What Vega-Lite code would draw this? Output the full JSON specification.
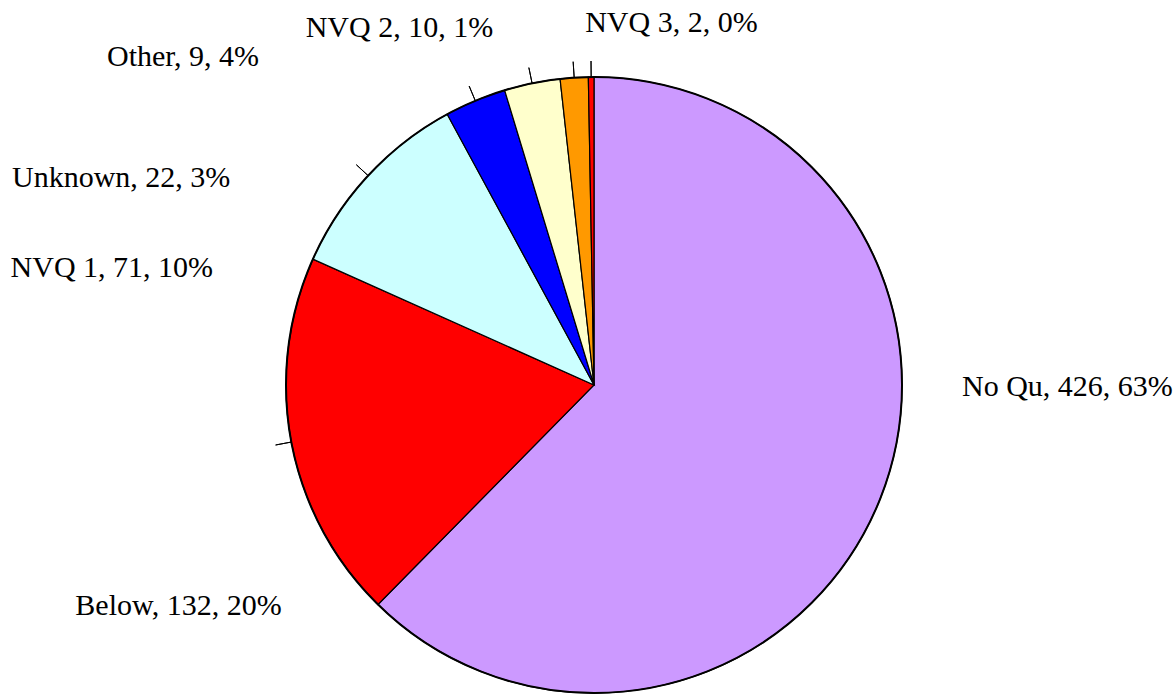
{
  "$schema": "https://vega.github.io/schema/vega-lite/v6.json",
  "width": 1160,
  "height": 618,
  "autosize": "none",
  "padding": {"left": 14, "top": 76, "right": 1, "bottom": 0},
  "background": "white",
  "view": {"stroke": null},
  "data": {
    "values": [
      {"i": 1, "category": "No Qu", "count": 426, "slice": 426, "label": "No Qu, 426, 63%"},
      {"i": 2, "category": "Below", "count": 132, "slice": 132, "label": "Below, 132, 20%"},
      {"i": 3, "category": "NVQ 1", "count": 71, "slice": 71, "label": "NVQ 1, 71, 10%"},
      {"i": 4, "category": "Unknown", "count": 22, "slice": 22, "label": "Unknown, 22, 3%"},
      {"i": 5, "category": "Other", "count": 9, "slice": 20, "label": "Other, 9, 4%"},
      {"i": 6, "category": "NVQ 2", "count": 10, "slice": 10, "label": "NVQ 2, 10, 1%"},
      {"i": 7, "category": "NVQ 3", "count": 2, "slice": 2, "label": "NVQ 3, 2, 0%"}
    ]
  },
  "layer": [
    {
      "mark": {"type": "arc", "outerRadius": 308, "stroke": "black", "strokeWidth": 1.2},
      "encoding": {
        "theta": {"field": "slice", "type": "quantitative", "stack": true},
        "order": {"field": "i", "type": "quantitative"},
        "color": {
          "field": "category",
          "type": "nominal",
          "scale": {
            "domain": ["No Qu", "Below", "NVQ 1", "Unknown", "Other", "NVQ 2", "NVQ 3"],
            "range": ["#CC99FF", "#FF0000", "#CCFFFF", "#0000FF", "#FFFFCC", "#FF9900", "#FF0000"]
          },
          "legend": null
        }
      }
    },
    {
      "mark": {"type": "arc", "filled": false, "outerRadius": 308, "stroke": "black", "strokeWidth": 2},
      "encoding": {
        "theta": {"aggregate": "sum", "field": "slice", "type": "quantitative", "stack": true}
      }
    },
    {
      "mark": {"type": "arc", "filled": false, "innerRadius": 308, "outerRadius": 324, "padAngle": 3, "stroke": "black", "strokeWidth": 1},
      "encoding": {
        "theta": {"field": "slice", "type": "quantitative", "stack": true},
        "order": {"field": "i", "type": "quantitative"},
        "strokeOpacity": {"condition": {"test": "datum.category === 'No Qu'", "value": 0}, "value": 1}
      }
    },
    {
      "mark": {"type": "text", "radius": 308, "align": "left", "baseline": "alphabetic", "dx": 83, "dy": -106, "font": "Liberation Serif", "fontSize": 30, "fill": "black"},
      "encoding": {
        "theta": {"field": "slice", "type": "quantitative", "stack": true},
        "order": {"field": "i", "type": "quantitative"},
        "text": {"condition": {"test": "datum.category === 'No Qu'", "field": "label", "type": "nominal"}, "value": ""}
      }
    },
    {
      "mark": {"type": "text", "radius": 308, "align": "left", "baseline": "alphabetic", "dx": -216, "dy": 173, "font": "Liberation Serif", "fontSize": 30, "fill": "black"},
      "encoding": {
        "theta": {"field": "slice", "type": "quantitative", "stack": true},
        "order": {"field": "i", "type": "quantitative"},
        "text": {"condition": {"test": "datum.category === 'Below'", "field": "label", "type": "nominal"}, "value": ""}
      }
    },
    {
      "mark": {"type": "text", "radius": 308, "align": "right", "baseline": "alphabetic", "dx": -155, "dy": 101, "font": "Liberation Serif", "fontSize": 30, "fill": "black"},
      "encoding": {
        "theta": {"field": "slice", "type": "quantitative", "stack": true},
        "order": {"field": "i", "type": "quantitative"},
        "text": {"condition": {"test": "datum.category === 'NVQ 1'", "field": "label", "type": "nominal"}, "value": ""}
      }
    },
    {
      "mark": {"type": "text", "radius": 308, "align": "right", "baseline": "alphabetic", "dx": -245, "dy": 86, "font": "Liberation Serif", "fontSize": 30, "fill": "black"},
      "encoding": {
        "theta": {"field": "slice", "type": "quantitative", "stack": true},
        "order": {"field": "i", "type": "quantitative"},
        "text": {"condition": {"test": "datum.category === 'Unknown'", "field": "label", "type": "nominal"}, "value": ""}
      }
    },
    {
      "mark": {"type": "text", "radius": 308, "align": "right", "baseline": "alphabetic", "dx": -273, "dy": -17, "font": "Liberation Serif", "fontSize": 30, "fill": "black"},
      "encoding": {
        "theta": {"field": "slice", "type": "quantitative", "stack": true},
        "order": {"field": "i", "type": "quantitative"},
        "text": {"condition": {"test": "datum.category === 'Other'", "field": "label", "type": "nominal"}, "value": ""}
      }
    },
    {
      "mark": {"type": "text", "radius": 308, "align": "right", "baseline": "alphabetic", "dx": -81, "dy": -41, "font": "Liberation Serif", "fontSize": 30, "fill": "black"},
      "encoding": {
        "theta": {"field": "slice", "type": "quantitative", "stack": true},
        "order": {"field": "i", "type": "quantitative"},
        "text": {"condition": {"test": "datum.category === 'NVQ 2'", "field": "label", "type": "nominal"}, "value": ""}
      }
    },
    {
      "mark": {"type": "text", "radius": 308, "align": "left", "baseline": "alphabetic", "dx": -6, "dy": -45, "font": "Liberation Serif", "fontSize": 30, "fill": "black"},
      "encoding": {
        "theta": {"field": "slice", "type": "quantitative", "stack": true},
        "order": {"field": "i", "type": "quantitative"},
        "text": {"condition": {"test": "datum.category === 'NVQ 3'", "field": "label", "type": "nominal"}, "value": ""}
      }
    }
  ]
}
